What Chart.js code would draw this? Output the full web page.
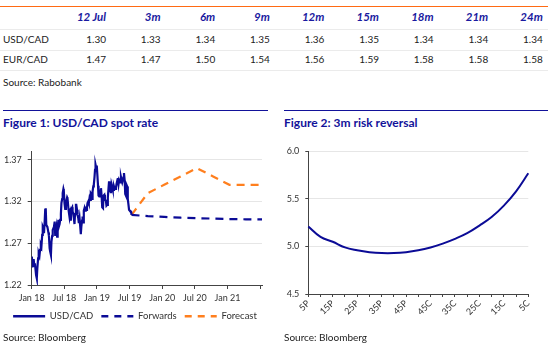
<!DOCTYPE html>
<html><head><meta charset="utf-8">
<script src="https://cdn.jsdelivr.net/npm/chart.js@4.4.1/dist/chart.umd.min.js"></script>
<style>
html,body{margin:0;padding:0;background:#fff;}
body{width:558px;height:356px;position:relative;overflow:hidden;font-family:Lato,"Open Sans",sans-serif;color:#222;}
.t{position:absolute;white-space:nowrap;line-height:14px;height:14px;}
.r{text-align:right;}
.hdr{font-style:italic;font-weight:bold;color:#1a1aa0;font-size:11.5px;}
.cell{font-size:10px;}
.rule{position:absolute;height:1px;}
.title{font-weight:bold;color:#12129a;font-size:12px;}
canvas{position:absolute;}
</style></head><body>
<div class="rule" style="left:0;top:6px;width:548px;background:#ff6a13;"></div>
<div class="rule" style="left:0;top:29px;width:548px;background:#ebebeb;"></div>
<div class="rule" style="left:0;top:50px;width:548px;background:#ebebeb;"></div>
<div class="rule" style="left:0;top:70px;width:548px;background:#ebebeb;"></div>
<div id="tbl"></div>
<div class="t cell" style="left:3px;top:75px;">Source: Rabobank</div>

<div class="rule" style="left:3px;top:110px;width:265px;background:#12129a;"></div>
<div class="rule" style="left:284px;top:110px;width:264px;background:#12129a;"></div>
<div class="t title" style="left:3px;top:116px;">Figure 1: USD/CAD spot rate</div>
<div class="t title" style="left:284px;top:116px;">Figure 2: 3m risk reversal</div>

<canvas id="c1" width="272" height="191" style="left:0;top:140px;"></canvas>
<canvas id="c2" width="265" height="185" style="left:279px;top:140px;"></canvas>

<div class="t cell" style="left:3px;top:330px;">Source: Bloomberg</div>
<div class="t cell" style="left:284px;top:330px;">Source: Bloomberg</div>

<script>
// ---------- Table data ----------
const tableColumns = ['12 Jul','3m','6m','9m','12m','15m','18m','21m','24m'];
const tableRows = ['USD/CAD','EUR/CAD'];
const usdcadRow = [1.30,1.33,1.34,1.35,1.36,1.35,1.34,1.34,1.34];
const eurcadRow = [1.47,1.47,1.50,1.54,1.56,1.59,1.58,1.58,1.58];

// ---------- Figure 1 data ----------
const spotDates = [
'2018-01-02','2018-01-05','2018-01-09','2018-01-12','2018-01-16','2018-01-19','2018-01-23','2018-01-26','2018-01-29','2018-01-31',
'2018-02-02','2018-02-06','2018-02-09','2018-02-13','2018-02-16','2018-02-20','2018-02-23','2018-02-27',
'2018-03-02','2018-03-06','2018-03-09','2018-03-13','2018-03-16','2018-03-19','2018-03-22','2018-03-27','2018-03-29',
'2018-04-03','2018-04-06','2018-04-10','2018-04-13','2018-04-17','2018-04-20','2018-04-24','2018-04-27',
'2018-05-01','2018-05-04','2018-05-08','2018-05-11','2018-05-15','2018-05-18','2018-05-22','2018-05-25','2018-05-29',
'2018-06-01','2018-06-05','2018-06-08','2018-06-12','2018-06-15','2018-06-19','2018-06-22','2018-06-26','2018-06-28',
'2018-07-02','2018-07-06','2018-07-10','2018-07-13','2018-07-17','2018-07-19','2018-07-24','2018-07-27','2018-07-31',
'2018-08-03','2018-08-07','2018-08-10','2018-08-15','2018-08-17','2018-08-21','2018-08-24','2018-08-28','2018-08-31',
'2018-09-05','2018-09-07','2018-09-11','2018-09-14','2018-09-18','2018-09-21','2018-09-25','2018-09-28',
'2018-10-01','2018-10-03','2018-10-05','2018-10-09','2018-10-12','2018-10-16','2018-10-19','2018-10-23','2018-10-26','2018-10-30',
'2018-11-02','2018-11-06','2018-11-09','2018-11-13','2018-11-16','2018-11-20','2018-11-23','2018-11-27','2018-11-30',
'2018-12-04','2018-12-07','2018-12-11','2018-12-14','2018-12-18','2018-12-21','2018-12-24','2018-12-27','2018-12-31',
'2019-01-03','2019-01-07','2019-01-10','2019-01-14','2019-01-17','2019-01-21','2019-01-24','2019-01-28','2019-01-31',
'2019-02-04','2019-02-07','2019-02-11','2019-02-14','2019-02-19','2019-02-22','2019-02-26',
'2019-03-01','2019-03-05','2019-03-08','2019-03-12','2019-03-15','2019-03-19','2019-03-22','2019-03-26','2019-03-29',
'2019-04-02','2019-04-05','2019-04-09','2019-04-12','2019-04-16','2019-04-19','2019-04-24','2019-04-26','2019-04-30',
'2019-05-03','2019-05-07','2019-05-10','2019-05-14','2019-05-17','2019-05-21','2019-05-24','2019-05-28','2019-05-31',
'2019-06-04','2019-06-07','2019-06-11','2019-06-14','2019-06-18','2019-06-21','2019-06-25','2019-06-28',
'2019-07-02','2019-07-05','2019-07-09','2019-07-12'];
const spotValues = [
1.254,1.241,1.249,1.251,1.243,1.246,1.238,1.232,1.236,1.228,
1.240,1.252,1.258,1.255,1.262,1.268,1.266,1.280,
1.290,1.288,1.282,1.296,1.310,1.312,1.292,1.290,1.289,
1.283,1.279,1.264,1.260,1.256,1.272,1.279,1.286,
1.288,1.290,1.296,1.280,1.283,1.288,1.278,1.284,1.298,
1.290,1.293,1.298,1.305,1.318,1.323,1.330,1.335,1.333,
1.318,1.311,1.315,1.321,1.325,1.324,1.312,1.307,1.301,
1.305,1.297,1.311,1.313,1.308,1.306,1.301,1.293,1.305,
1.316,1.316,1.310,1.304,1.300,1.294,1.300,1.292,
1.284,1.281,1.290,1.297,1.302,1.295,1.309,1.312,1.309,1.314,
1.310,1.313,1.318,1.320,1.318,1.324,1.322,1.330,1.329,
1.323,1.332,1.338,1.340,1.349,1.358,1.364,1.361,1.363,
1.353,1.339,1.327,1.326,1.328,1.333,1.336,1.325,1.313,
1.312,1.327,1.328,1.322,1.321,1.315,1.316,
1.325,1.336,1.344,1.334,1.335,1.330,1.341,1.338,1.335,
1.334,1.338,1.335,1.335,1.337,1.341,1.346,1.348,1.341,
1.346,1.346,1.343,1.349,1.346,1.343,1.343,1.349,1.354,
1.345,1.329,1.327,1.340,1.338,1.323,1.316,1.310,
1.309,1.308,1.309,1.304];

const outlookDates = ['2019-07-12','2019-10-12','2020-01-12','2020-04-12','2020-07-12','2020-10-12','2021-01-12','2021-04-12','2021-07-12'];
const forwardValues = [1.304,1.3025,1.3015,1.3006,1.3000,1.2995,1.2990,1.2987,1.2985];
const forecastValues = [1.304,1.33,1.34,1.35,1.36,1.35,1.34,1.34,1.34];

const fig1TickLabels = ['Jan 18','Jul 18','Jan 19','Jul 19','Jan 20','Jul 20','Jan 21',''];
const fig1YTicks = [1.22,1.27,1.32,1.37];

// ---------- Figure 2 data ----------
const rrLabels = ['5P','10P','15P','20P','25P','30P','35P','40P','45P','ATM','45C','40C','35C','30C','25C','20C','15C','10C','5C'];
const rrValues = [5.21,5.10,5.05,4.99,4.96,4.94,4.93,4.93,4.94,4.96,4.99,5.03,5.08,5.14,5.22,5.31,5.43,5.58,5.77];

// ---------- Table ----------
const colRight = i => 106 + i*54.6;
const tbl = document.getElementById('tbl');
function addText(cls, txt, left, top, right){
  const d = document.createElement('div');
  d.className = 't ' + cls;
  d.textContent = txt;
  if (right !== undefined){ d.style.left = (right-60)+'px'; d.style.width='60px'; d.classList.add('r'); }
  else d.style.left = left+'px';
  d.style.top = top+'px';
  tbl.appendChild(d);
}
tableColumns.forEach((c,i)=>addText('hdr', c, 0, 10, colRight(i)));
[usdcadRow, eurcadRow].forEach((row,r)=>{
  addText('cell', tableRows[r], 3, 32 + r*20);
  row.forEach((v,i)=>addText('cell', v.toFixed(2), 0, 32 + r*20, colRight(i)));
});

// ---------- Charts ----------
Chart.defaults.font.family = 'Lato, "Open Sans", sans-serif';
Chart.defaults.color = '#333';
const NAVY = '#0b0b96';
const ORANGE = '#ff7f1e';
const AXIS = '#444';
const GRID = '#e6e6e6';

function toMonths(d){
  const [y,m,day] = d.split('-').map(Number);
  const dim = new Date(y, m, 0).getDate();
  return (y-2018)*12 + (m-1) + (day-1)/dim;
}
const pts = (dates, vals) => dates.map((d,i)=>({x: toMonths(d), y: vals[i]}));

const legendShift = {
  id: 'legendShift',
  afterLayout(chart){ if (chart.legend){ chart.legend.left += 4; chart.legend.right += 4; } }
};

new Chart(document.getElementById('c1'), {
  type: 'line',
  data: {
    datasets: [
      {label:'USD/CAD', data: pts(spotDates, spotValues), borderColor: NAVY, borderWidth: 2.2, pointRadius: 0, tension: 0},
      {label:'Forwards', data: pts(outlookDates, forwardValues), borderColor: NAVY, borderWidth: 2.2, borderDash:[8,6], pointRadius: 0},
      {label:'Forecast', data: pts(outlookDates, forecastValues), borderColor: ORANGE, borderWidth: 2.2, borderDash:[8,6], pointRadius: 0}
    ]
  },
  plugins: [legendShift],
  options: {
    responsive: false, animation: false, devicePixelRatio: 1,
    layout: {padding: {top: 9, left: 0, right: 10, bottom: 0}},
    plugins: {
      tooltip: {enabled: false},
      legend: {position: 'bottom', labels: {
        usePointStyle: true, pointStyle: 'line', pointStyleWidth: 32, font: {size: 9.5}, color: '#333', padding: 8,
        generateLabels: chart => Chart.defaults.plugins.legend.labels.generateLabels(chart).map((l,i)=>{
          const ds = chart.data.datasets[i];
          return Object.assign(l, {lineDash: ds.borderDash ? [7,6] : [], lineWidth: 2.4, strokeStyle: ds.borderColor, pointStyle: 'line'});
        })
      }}
    },
    scales: {
      x: {
        type: 'linear', min: 0, max: 42.35,
        afterBuildTicks: s => { s.ticks = fig1TickLabels.map((l,i)=>({value: i*6})); },
        afterFit: s => { s.height = 18.5; },
        ticks: {callback: (v,i) => fig1TickLabels[i], font:{size:9}, color:'#333', padding: 4, maxRotation: 0, autoSkip: false},
        grid: {drawOnChartArea: false, color: 'rgba(0,0,0,0)', tickColor: AXIS, tickLength: 4},
        border: {color: AXIS}
      },
      y: {
        min: 1.22, max: 1.38,
        afterBuildTicks: s => { s.ticks = fig1YTicks.map(v=>({value:v})); },
        afterFit: s => { s.width = 31.7; },
        ticks: {callback: v => v.toFixed(2), font:{size:9}, color:'#333', padding: 6},
        grid: {color: c => c.index === 0 ? 'rgba(0,0,0,0)' : GRID, tickColor: AXIS, tickLength: 4},
        border: {color: AXIS}
      }
    }
  }
});

new Chart(document.getElementById('c2'), {
  type: 'line',
  data: {
    labels: rrLabels,
    datasets: [{label:'3m risk reversal', data: rrValues, borderColor: NAVY, borderWidth: 2, pointRadius: 0, tension: 0.4}]
  },
  options: {
    responsive: false, animation: false, devicePixelRatio: 1,
    layout: {padding: {top: 9, left: 0, right: 15.7, bottom: 0}},
    plugins: {tooltip: {enabled: false}, legend: {display: false}},
    scales: {
      x: {
        offset: false,
        afterFit: s => { s.height = 31; },
        ticks: {callback: (v,i) => i % 2 === 0 ? rrLabels[i] : '', autoSkip: false, minRotation: 45, maxRotation: 45, font:{size:9}, color:'#333', padding: 1},
        grid: {drawOnChartArea: false, color: 'rgba(0,0,0,0)', tickColor: AXIS, tickLength: 3},
        border: {color: AXIS}
      },
      y: {
        min: 4.5, max: 6.0,
        ticks: {stepSize: 0.5, callback: v => v.toFixed(1), font:{size:9}, color:'#333', padding: 6},
        afterFit: s => { s.width = 29.3; },
        grid: {color: c => c.index === 0 ? 'rgba(0,0,0,0)' : GRID, tickColor: AXIS, tickLength: 3},
        border: {color: AXIS}
      }
    }
  }
});
</script>
</body></html>
